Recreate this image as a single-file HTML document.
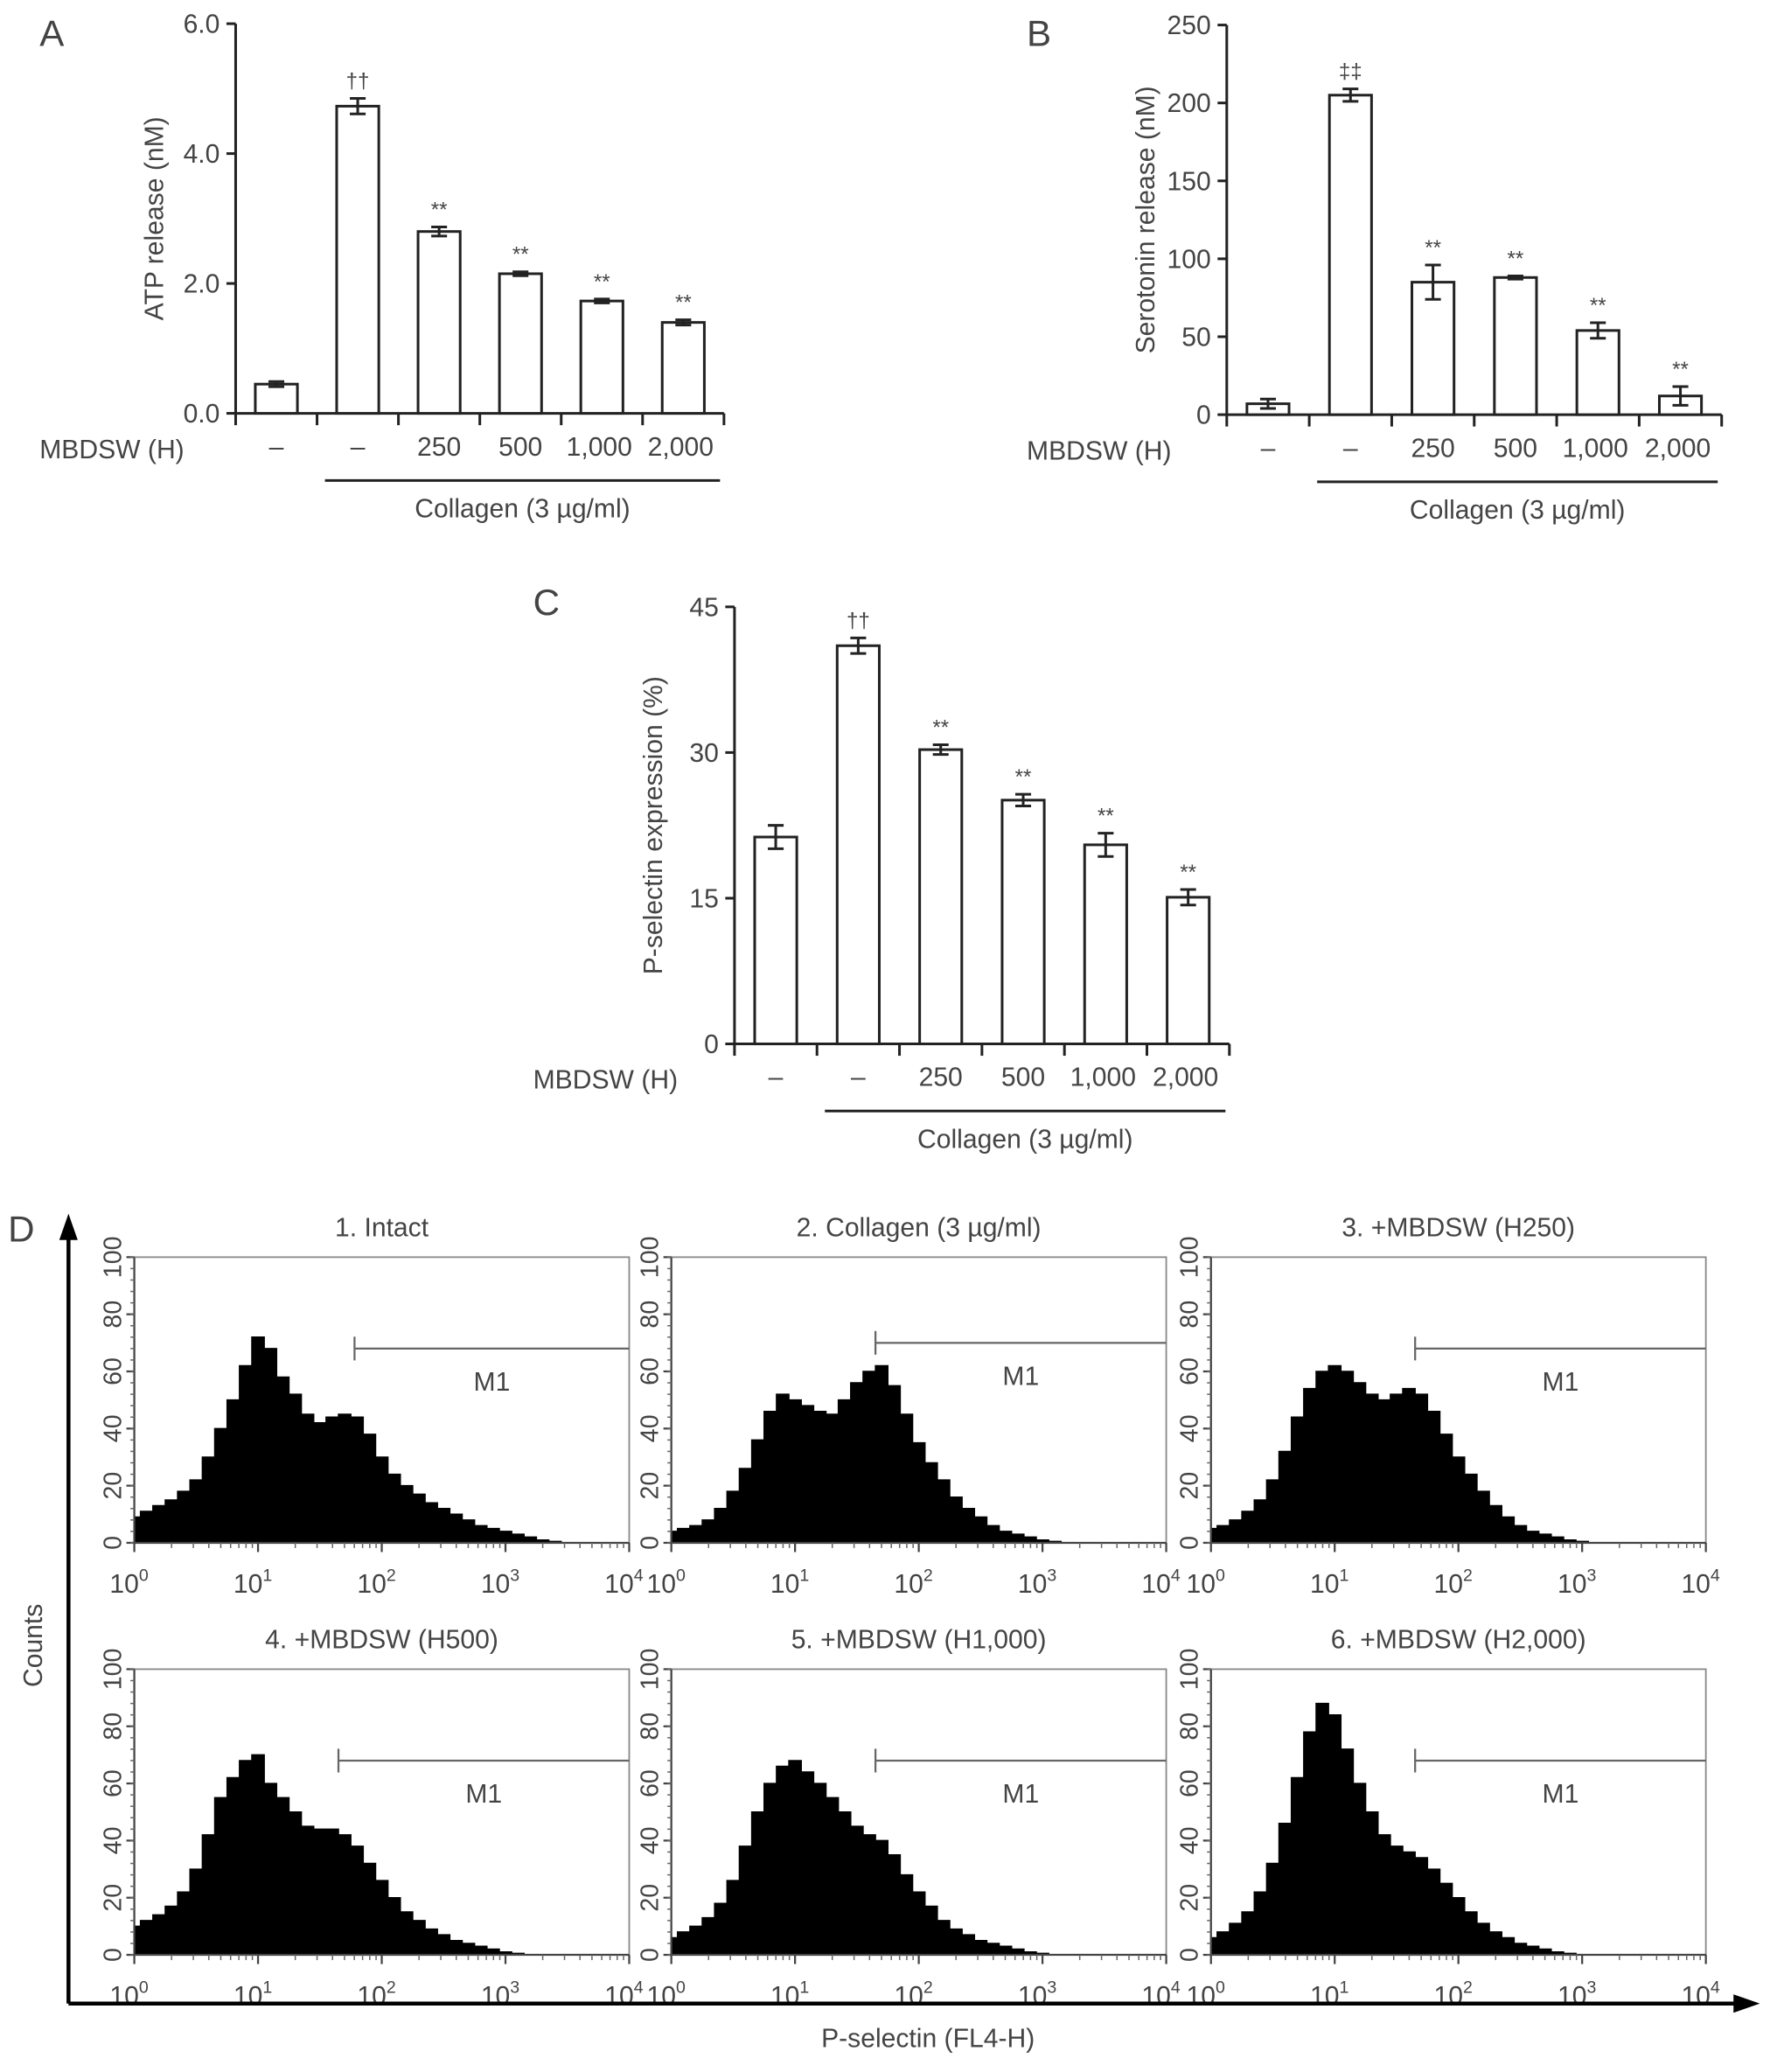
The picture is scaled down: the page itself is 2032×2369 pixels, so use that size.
<!DOCTYPE html>
<html><head><meta charset="utf-8"><style>
html,body{margin:0;padding:0;background:#fff}
svg{display:block}
text{font-family:"Liberation Sans",sans-serif;fill:#444}
</style></head><body>
<svg id="fig" width="2032" height="2369" viewBox="0 0 1350 1574" xmlns="http://www.w3.org/2000/svg"></svg>
<script>
// ---- Bar chart data ----
const catLabels = ["–","–","250","500","1,000","2,000"];
const atpValues = [0.45,4.73,2.8,2.15,1.73,1.4];
const atpErrors = [0.04,0.12,0.07,0.03,0.03,0.04];
const atpTicks = [0,2,4,6];
const atpMarks = ["","††","**","**","**","**"];
const seroValues = [7,205,85,88,54,12];
const seroErrors = [3,4,11,1,5,6];
const seroTicks = [0,50,100,150,200,250];
const seroMarks = ["","‡‡","**","**","**","**"];
const pselValues = [21.3,41,30.3,25.1,20.5,15.1];
const pselErrors = [1.2,0.8,0.5,0.6,1.2,0.8];
const pselTicks = [0,15,30,45];
const pselMarks = ["","††","**","**","**","**"];
// ---- Histogram data (counts per 0.1 decade bin, 10^0..10^4) ----
const histTitles = ["1. Intact","2. Collagen (3 µg/ml)","3. +MBDSW (H250)","4. +MBDSW (H500)","5. +MBDSW (H1,000)","6. +MBDSW (H2,000)"];
const hist1 = [9,11,13,15,18,22,30,40,50,62,72,68,58,52,45,42,44,45,44,38,30,24,20,17,14,12,10,8,6,5,4,3,2,1,0.5,0,0,0,0,0,0];
const hist2 = [4,5,6,8,12,18,26,36,46,52,50,48,46,45,50,56,60,62,55,45,35,28,22,16,12,9,6,4,3,2,1,0.5,0,0,0,0,0,0,0,0,0];
const hist3 = [5,6,8,11,15,22,32,44,54,60,62,60,56,52,50,52,54,52,46,38,30,24,18,13,9,6,4,3,2,1,0.5,0,0,0,0,0,0,0,0,0,0];
const hist4 = [10,12,14,17,22,30,42,55,62,68,70,60,55,50,45,44,44,42,38,32,26,20,15,12,9,7,5,4,3,2,1,0.5,0,0,0,0,0,0,0,0,0];
const hist5 = [6,8,10,13,18,26,38,50,60,66,68,64,60,55,50,45,42,40,35,28,22,17,12,9,7,5,4,3,2,1,0.5,0,0,0,0,0,0,0,0,0,0];
const hist6 = [6,8,11,15,22,32,46,62,78,88,84,72,60,50,42,38,36,34,30,25,20,15,11,8,6,4,3,2,1,0.5,0,0,0,0,0,0,0,0,0,0,0];
const gateLog = [1.78,1.65,1.65,1.65,1.65,1.65];
const gateY = [68,70,68,68,68,68];

const NS="http://www.w3.org/2000/svg";
const svg=document.getElementById('fig');
function mk(tag,attrs,parent,txt){const e=document.createElementNS(NS,tag);for(const k in attrs)e.setAttribute(k,attrs[k]);if(txt!==undefined)e.textContent=txt;(parent||svg).appendChild(e);return e;}

function barChart(o){
  const g=mk('g',{});
  
  
  const maxV=o.ticks[o.ticks.length-1];
  const y=v=>o.y0-(v/maxV)*(o.y0-o.y1);
  const n=o.values.length, step=(o.xEnd-o.x0)/n;
  const lt=mk('text',{x:o.lx,y:o.ly,'font-size':28},g,o.letter);
  
  
  const ya=mk('line',{x1:o.x0,y1:o.y1,x2:o.x0,y2:o.y0,stroke:'#222','stroke-width':2},g);
  
  
  o.ticks.forEach(t=>{
    mk('line',{x1:o.x0-7,y1:y(t),x2:o.x0,y2:y(t),stroke:'#222','stroke-width':2},g);
    const tl=mk('text',{x:o.x0-12,y:y(t)+7,'font-size':20,'text-anchor':'end'},g,o.fmt(t));
    
    
  });
  const yt=mk('text',{transform:`translate(${o.x0-55},${(o.y0+o.y1)/2}) rotate(-90)`,'font-size':20,'text-anchor':'middle'},g,o.ytitle);
  
  
  const xa=mk('line',{x1:o.x0,y1:o.y0,x2:o.xEnd,y2:o.y0,stroke:'#222','stroke-width':2},g);
  
  
  for(let i=0;i<=n;i++)mk('line',{x1:o.x0+i*step,y1:o.y0,x2:o.x0+i*step,y2:o.y0+9,stroke:'#222','stroke-width':2},g);
  const bw=32;
  o.values.forEach((v,i)=>{
    const cx=o.x0+step*(i+0.5);
    const b=mk('rect',{x:cx-bw/2,y:y(v),width:bw,height:o.y0-y(v),fill:'#fff',stroke:'#222','stroke-width':2},g);
    
    
    const e=o.errors[i];
    const eg=mk('g',{stroke:'#222','stroke-width':2},g);
    
    
    mk('line',{x1:cx,y1:y(v+e),x2:cx,y2:y(v-e)},eg);
    mk('line',{x1:cx-6,y1:y(v+e),x2:cx+6,y2:y(v+e)},eg);
    mk('line',{x1:cx-6,y1:y(v-e),x2:cx+6,y2:y(v-e)},eg);
    if(o.marks[i]){const m=mk('text',{x:cx,y:y(v+e)-8,'font-size':16,'text-anchor':'middle'},g,o.marks[i]);
      
      }
    const cl=mk('text',{x:cx+(i>3?-2:0),y:o.y0+32,'font-size':20,'text-anchor':'middle'},g,catLabels[i]);
    
    
  });
  const mb=mk('text',{x:o.mbx,y:o.y0+34,'font-size':20},g,'MBDSW (H)');
  
  
  const cx1=o.x0+step*1+6, cx2=o.xEnd-3;
  const cl=mk('line',{x1:cx1,y1:o.y0+51,x2:cx2,y2:o.y0+51,stroke:'#222','stroke-width':2},g);
  
  
  const ct=mk('text',{x:(cx1+cx2)/2,y:o.y0+79,'font-size':20,'text-anchor':'middle'},g,'Collagen (3 µg/ml)');
  
  
}
barChart({name:'panel-a-atp',letter:'A',lx:30,ly:35,x0:179,xEnd:550,y0:314,y1:18,values:atpValues,errors:atpErrors,ticks:atpTicks,marks:atpMarks,fmt:t=>t.toFixed(1),ytitle:'ATP release (nM)',mbx:30});
barChart({name:'panel-b-serotonin',letter:'B',lx:780,ly:35,x0:932,xEnd:1308,y0:315,y1:19,values:seroValues,errors:seroErrors,ticks:seroTicks,marks:seroMarks,fmt:t=>String(t),ytitle:'Serotonin release (nM)',mbx:780});
barChart({name:'panel-c-pselectin',letter:'C',lx:405,ly:467,x0:558,xEnd:934,y0:793,y1:461,values:pselValues,errors:pselErrors,ticks:pselTicks,marks:pselMarks,fmt:t=>String(t),ytitle:'P-selectin expression (%)',mbx:405});

// ---- Panel D ----
const hists=[hist1,hist2,hist3,hist4,hist5,hist6];
const boxX=[102,510,920];
const boxY=[955,1268];
const bwid=376,bht=217;
hists.forEach((h,k)=>{
  const bx=boxX[k%3], by=boxY[Math.floor(k/3)];
  const g=mk('g',{});
  
  
  const xs=l=>bx+l/4*bwid, ys=c=>by+bht-c/100*bht;
  const tt=mk('text',{x:bx+bwid/2,y:by-16,'font-size':20,'text-anchor':'middle'},g,histTitles[k]);
  
  
  mk('rect',{x:bx,y:by,width:bwid,height:bht,fill:'none',stroke:'#888','stroke-width':1.2},g);
  let d=`M${xs(0)},${ys(0)}`;
  h.forEach((c,i)=>{const l0=i*0.1-0.05<0?0:i*0.1-0.05, l1=Math.min(4,i*0.1+0.05);d+=`L${xs(l0)},${ys(c)}L${xs(l1)},${ys(c)}`;});
  d+=`L${xs(4)},${ys(0)}Z`;
  const p=mk('path',{d:d,fill:'#000',stroke:'#000','stroke-width':1},g);
  
  
  mk('line',{x1:bx,y1:by,x2:bx,y2:by+bht,stroke:'#444','stroke-width':1.5},g);
  mk('line',{x1:bx,y1:by+bht,x2:bx+bwid,y2:by+bht,stroke:'#444','stroke-width':1.5},g);
  for(let v=0;v<=100;v+=20){
    mk('line',{x1:bx-6,y1:ys(v),x2:bx,y2:ys(v),stroke:'#444','stroke-width':1.5},g);
    const tl=mk('text',{transform:`translate(${bx-10},${ys(v)}) rotate(-90)`,'font-size':19,'text-anchor':'middle'},g,String(v));
    
    
  }
  for(let v=0;v<=100;v+=4)mk('line',{x1:bx-3,y1:ys(v),x2:bx,y2:ys(v),stroke:'#666','stroke-width':1},g);
  for(let dec=0;dec<=4;dec++){
    mk('line',{x1:xs(dec),y1:by+bht,x2:xs(dec),y2:by+bht+7,stroke:'#444','stroke-width':1.5},g);
    const t=mk('text',{x:xs(dec)-4,y:by+bht+38,'font-size':20,'text-anchor':'middle'},g,'10');
    
    
    mk('tspan',{dy:-9,'font-size':13},t,String(dec));
    if(dec<4)for(let m=2;m<10;m++){const x=xs(dec+Math.log10(m));mk('line',{x1:x,y1:by+bht,x2:x,y2:by+bht+4,stroke:'#666','stroke-width':1},g);}
  }
  const gx=xs(gateLog[k]), gy=ys(gateY[k]);
  const gate=mk('g',{stroke:'#666','stroke-width':1.5},g);
  
  
  mk('line',{x1:gx,y1:gy-9,x2:gx,y2:gy+9},gate);
  mk('line',{x1:gx,y1:gy,x2:bx+bwid,y2:gy},gate);
  const m1=mk('text',{x:(gx+bx+bwid)/2,y:gy+32,'font-size':20,'text-anchor':'middle'},g,'M1');
  
  
});
const ax=mk('g',{});


mk('line',{x1:52,y1:1522,x2:52,y2:940,stroke:'#000','stroke-width':3},ax);
mk('polygon',{points:'52,922 45,942 59,942',fill:'#000'},ax);
mk('line',{x1:52,y1:1522,x2:1320,y2:1522,stroke:'#000','stroke-width':3},ax);
mk('polygon',{points:'1337,1522 1317,1515 1317,1529',fill:'#000'},ax);
const dl=mk('text',{x:6,y:943,'font-size':28},ax,'D');


const cnt=mk('text',{transform:'translate(32,1250) rotate(-90)','font-size':20,'text-anchor':'middle'},ax,'Counts');


const xl=mk('text',{x:705,y:1555,'font-size':20,'text-anchor':'middle'},ax,'P-selectin (FL4-H)');


</script>
</body></html>
